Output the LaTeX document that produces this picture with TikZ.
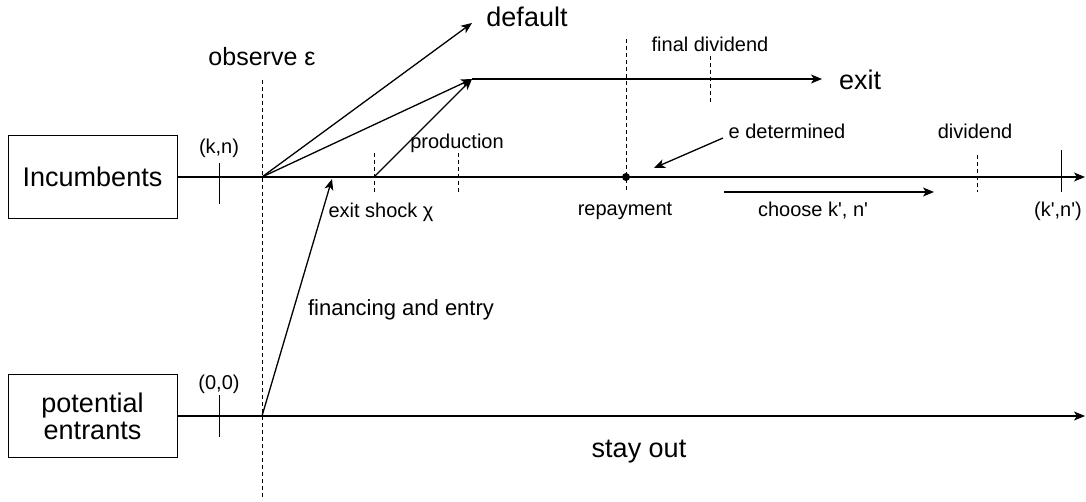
\documentclass[tikz,border=0pt]{standalone}
\usepackage{fontspec}
\setmainfont{Liberation Sans}
\newfontfamily\lsans{Liberation Sans}
\usetikzlibrary{arrows.meta}
\begin{document}
\begin{tikzpicture}[x=1pt,y=-1pt,
  line width=1.3pt,
  arr/.style={-{Stealth[length=11pt,width=9pt,inset=3pt]}},
  dsh/.style={line width=0.9pt,dash pattern=on 4pt off 3pt},
  boxnode/.style={draw,line width=1pt,minimum width=169pt,minimum height=83pt,inner sep=0pt,align=center,font=\lsans\fontsize{27}{31}\selectfont},
  big/.style={font=\lsans\fontsize{27}{31}\selectfont,inner sep=0pt},
  mid/.style={font=\lsans\fontsize{22}{26}\selectfont,inner sep=0pt},
  small/.style={font=\lsans\fontsize{20}{24}\selectfont,inner sep=0pt}]
\useasboundingbox (0,0) rectangle (1086,502);
% boxes
\node[boxnode] (inc) at (92.5,177) {Incumbents};
\node[boxnode] (pe) at (92.5,416) {potential\\[-4pt]entrants};
% key coordinates
\coordinate (iend) at (1085,177);
\coordinate (pend) at (1085,416);
\coordinate (O) at (262,177);
\coordinate (E) at (262,416);
\coordinate (D) at (472,23);
\coordinate (X) at (472,79);
\coordinate (S) at (374,177);
\coordinate (XT) at (822,79);
\coordinate (ENT) at (332,179);
\coordinate (R) at (626,177);
\coordinate (dtop) at (262,80);
\coordinate (dbot) at (262,500);
% timelines
\draw[arr] (inc.east) -- (iend);
\draw[arr] (pe.east) -- (pend);
% main dashed line
\draw[dsh] (dtop) -- (dbot);
% dashed ticks
\draw[dsh] (374,153) -- (374,192);
\draw[dsh] (458,153) -- (458,192);
\draw[dsh] (626,39) -- (626,192);
\draw[dsh] (710,56) -- (710,102);
\draw[dsh] (977,155) -- (977,192);
% solid ticks
\draw[line width=1pt] (219,163) -- (219,204);
\draw[line width=1pt] (219,395) -- (219,437);
\draw[line width=1pt] (1061,150) -- (1061,192);
% arrows
\draw[arr] (O) -- (D);
\draw[arr] (O) -- (X);
\draw[arr] (S) -- (X);
\draw[arr] (X) -- (XT);
\draw[arr] (E) -- (ENT);
\fill (R) circle (4pt);
\coordinate (edA) at (723,138);
\coordinate (edB) at (654,168);
\draw[arr] (edA) -- (edB);
\coordinate (chA) at (724,192);
\coordinate (chB) at (934,192);
\draw[arr] (chA) -- (chB);
% labels
\node[small] (lkn) at (219,148) {(k,n)};
\node[small] (l00) at (219,384) {(0,0)};
\node[big,font=\lsans\fontsize{25}{30}\selectfont] (lobs) at (262,57) {observe ε};
\node[big] (ldef) at (527,17) {default};
\node[big] (lexit) at (860,80) {exit};
\node[small] (lprod) at (457,143) {production};
\node[small] (lfd) at (710,44) {final dividend};
\node[small] (led) at (787,131) {e determined};
\node[small] (ldiv) at (975,131) {dividend};
\node[small] (lxs) at (381,212) {exit shock χ};
\node[small] (lrep) at (625,211) {repayment};
\node[small] (lch) at (813,211) {choose k', n'};
\node[small] (lkn2) at (1058,211) {(k',n')};
\node[mid] (lfin) at (401,310) {financing and entry};
\node[big] (lstay) at (639,452) {stay out};
\end{tikzpicture}
\end{document}
